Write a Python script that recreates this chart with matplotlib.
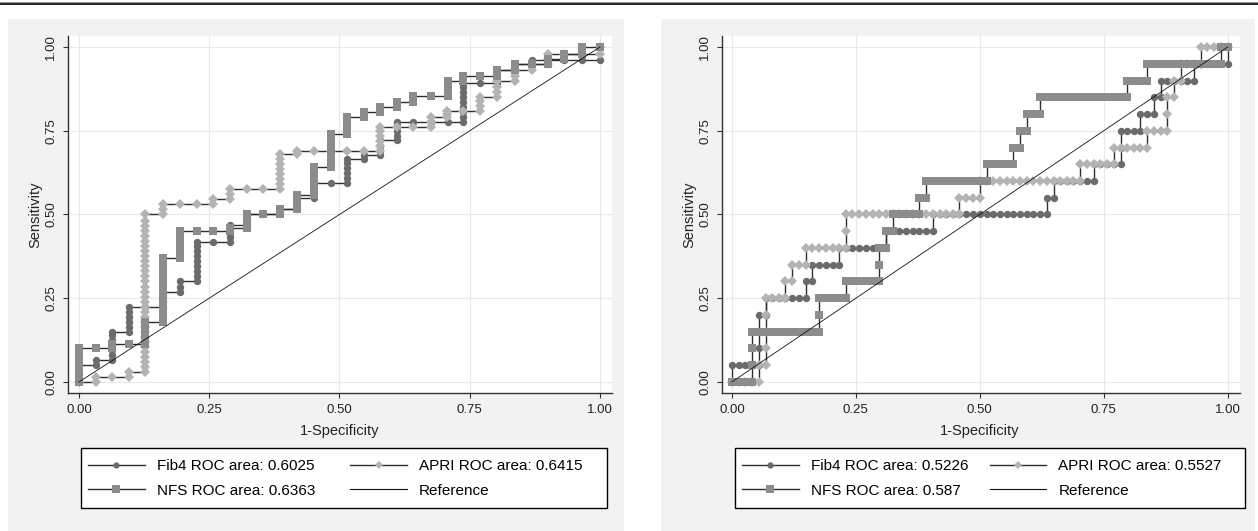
import matplotlib
matplotlib.use("Agg")
import matplotlib.pyplot as plt
from matplotlib.lines import Line2D
from matplotlib.patches import Rectangle

plt.rcParams['font.family'] = ['Liberation Sans', 'DejaVu Sans']

# ---------------- data: (1-specificity, sensitivity) points ----------------
fib4_left = [
    (0, 0), (0, 0.025), (0, 0.05),
    (0.033, 0.05), (0.033, 0.065),
    (0.063, 0.065), (0.063, 0.08), (0.063, 0.095), (0.063, 0.11), (0.063, 0.125), (0.063, 0.14), (0.063, 0.15),
    (0.096, 0.15), (0.096, 0.165), (0.096, 0.18), (0.096, 0.195), (0.096, 0.21), (0.096, 0.225),
    (0.127, 0.225),
    (0.162, 0.225), (0.162, 0.24), (0.162, 0.255), (0.162, 0.27),
    (0.193, 0.27), (0.193, 0.285), (0.193, 0.30),
    (0.226, 0.30), (0.226, 0.315), (0.226, 0.33), (0.226, 0.345), (0.226, 0.36), (0.226, 0.375),
    (0.226, 0.39), (0.226, 0.405), (0.226, 0.418),
    (0.258, 0.418),
    (0.290, 0.418), (0.290, 0.432), (0.290, 0.446), (0.290, 0.46), (0.290, 0.47),
    (0.322, 0.47), (0.322, 0.485), (0.322, 0.50),
    (0.354, 0.50),
    (0.386, 0.50), (0.386, 0.515),
    (0.418, 0.515), (0.418, 0.53), (0.418, 0.548),
    (0.451, 0.548), (0.451, 0.57), (0.451, 0.595),
    (0.483, 0.595),
    (0.515, 0.595), (0.515, 0.61), (0.515, 0.625), (0.515, 0.64), (0.515, 0.655), (0.515, 0.667),
    (0.547, 0.667), (0.547, 0.677),
    (0.578, 0.677), (0.578, 0.69), (0.578, 0.705), (0.578, 0.722),
    (0.610, 0.722), (0.610, 0.735), (0.610, 0.75), (0.610, 0.765), (0.610, 0.775),
    (0.642, 0.775), (0.676, 0.775), (0.708, 0.775),
    (0.738, 0.775), (0.738, 0.79), (0.738, 0.805), (0.738, 0.82), (0.738, 0.835), (0.738, 0.85),
    (0.738, 0.865), (0.738, 0.88), (0.738, 0.893),
    (0.770, 0.893),
    (0.803, 0.893), (0.803, 0.91), (0.803, 0.93),
    (0.837, 0.93), (0.837, 0.948),
    (0.869, 0.948), (0.869, 0.962),
    (0.901, 0.962), (0.931, 0.962), (0.965, 0.962), (1.0, 0.962), (1.0, 1.0),
]

apri_left = [
    (0, 0),
    (0.033, 0), (0.033, 0.015),
    (0.063, 0.015),
    (0.096, 0.015), (0.096, 0.03),
    (0.127, 0.03), (0.127, 0.045), (0.127, 0.06), (0.127, 0.075), (0.127, 0.09), (0.127, 0.105),
    (0.127, 0.12), (0.127, 0.135), (0.127, 0.15), (0.127, 0.165), (0.127, 0.18), (0.127, 0.195),
    (0.127, 0.21), (0.127, 0.225), (0.127, 0.24), (0.127, 0.255), (0.127, 0.27), (0.127, 0.285),
    (0.127, 0.30), (0.127, 0.315), (0.127, 0.33), (0.127, 0.345), (0.127, 0.36), (0.127, 0.375),
    (0.127, 0.39), (0.127, 0.405), (0.127, 0.42), (0.127, 0.435), (0.127, 0.45), (0.127, 0.465),
    (0.127, 0.48), (0.127, 0.50),
    (0.162, 0.50), (0.162, 0.515), (0.162, 0.53),
    (0.193, 0.53), (0.226, 0.53),
    (0.258, 0.53), (0.258, 0.545),
    (0.290, 0.545), (0.290, 0.56), (0.290, 0.575),
    (0.322, 0.575), (0.354, 0.575),
    (0.386, 0.575), (0.386, 0.59), (0.386, 0.605), (0.386, 0.62), (0.386, 0.635), (0.386, 0.65),
    (0.386, 0.665), (0.386, 0.68),
    (0.418, 0.68), (0.418, 0.69),
    (0.451, 0.69), (0.483, 0.69), (0.515, 0.69), (0.547, 0.69),
    (0.578, 0.69), (0.578, 0.705), (0.578, 0.72), (0.578, 0.735), (0.578, 0.75), (0.578, 0.76),
    (0.610, 0.76), (0.642, 0.76),
    (0.676, 0.76), (0.676, 0.775), (0.676, 0.79),
    (0.706, 0.79), (0.706, 0.80), (0.706, 0.81),
    (0.738, 0.81),
    (0.770, 0.81), (0.770, 0.825), (0.770, 0.84), (0.770, 0.852),
    (0.803, 0.852), (0.803, 0.867), (0.803, 0.882), (0.803, 0.90),
    (0.837, 0.90), (0.837, 0.915), (0.837, 0.93),
    (0.869, 0.93), (0.869, 0.95),
    (0.901, 0.95), (0.901, 0.965), (0.901, 0.98),
    (0.931, 0.98), (0.965, 0.98), (1.0, 0.98), (1.0, 1.0),
]

nfs_left = [
    (0, 0), (0, 0.02), (0, 0.04), (0, 0.06), (0, 0.08), (0, 0.10),
    (0.033, 0.10),
    (0.063, 0.10), (0.063, 0.113),
    (0.096, 0.113),
    (0.127, 0.113), (0.127, 0.13), (0.127, 0.145), (0.127, 0.16), (0.127, 0.178),
    (0.162, 0.178), (0.162, 0.195), (0.162, 0.215), (0.162, 0.235), (0.162, 0.255), (0.162, 0.275),
    (0.162, 0.295), (0.162, 0.315), (0.162, 0.335), (0.162, 0.355), (0.162, 0.37),
    (0.193, 0.37), (0.193, 0.39), (0.193, 0.41), (0.193, 0.43), (0.193, 0.45),
    (0.226, 0.45), (0.258, 0.45),
    (0.290, 0.45), (0.290, 0.46),
    (0.322, 0.46), (0.322, 0.48), (0.322, 0.50),
    (0.354, 0.50),
    (0.386, 0.50), (0.386, 0.515),
    (0.418, 0.515), (0.418, 0.535), (0.418, 0.558),
    (0.451, 0.558), (0.451, 0.58), (0.451, 0.60), (0.451, 0.62), (0.451, 0.643),
    (0.483, 0.643), (0.483, 0.665), (0.483, 0.685), (0.483, 0.705), (0.483, 0.725), (0.483, 0.74),
    (0.515, 0.74), (0.515, 0.76), (0.515, 0.775), (0.515, 0.79),
    (0.547, 0.79), (0.547, 0.805),
    (0.578, 0.805), (0.578, 0.82),
    (0.610, 0.82), (0.610, 0.837),
    (0.642, 0.837), (0.642, 0.855),
    (0.676, 0.855),
    (0.708, 0.855), (0.708, 0.87), (0.708, 0.885), (0.708, 0.90),
    (0.738, 0.90), (0.738, 0.915),
    (0.770, 0.915),
    (0.803, 0.915), (0.803, 0.93),
    (0.837, 0.93), (0.837, 0.948),
    (0.869, 0.948),
    (0.901, 0.948), (0.901, 0.965),
    (0.931, 0.965), (0.931, 0.98),
    (0.965, 0.98), (0.965, 1.0),
    (1.0, 1.0),
]

fib4_right = [
    (0, 0), (0, 0.05), (0.014, 0.05), (0.027, 0.05), (0.041, 0.05), (0.054, 0.05),
    (0.054, 0.10), (0.054, 0.15), (0.054, 0.20), (0.068, 0.20),
    (0.068, 0.25), (0.081, 0.25), (0.095, 0.25), (0.108, 0.25), (0.122, 0.25), (0.135, 0.25), (0.149, 0.25),
    (0.149, 0.30), (0.162, 0.30),
    (0.162, 0.35), (0.176, 0.35), (0.189, 0.35), (0.203, 0.35), (0.216, 0.35),
    (0.216, 0.40), (0.230, 0.40), (0.243, 0.40), (0.257, 0.40), (0.270, 0.40), (0.284, 0.40),
    (0.297, 0.40), (0.311, 0.40),
    (0.311, 0.45), (0.324, 0.45), (0.338, 0.45), (0.351, 0.45), (0.365, 0.45), (0.378, 0.45),
    (0.392, 0.45), (0.405, 0.45),
    (0.405, 0.50), (0.419, 0.50), (0.432, 0.50), (0.446, 0.50), (0.459, 0.50), (0.473, 0.50),
    (0.486, 0.50), (0.500, 0.50), (0.514, 0.50), (0.527, 0.50), (0.541, 0.50), (0.554, 0.50),
    (0.568, 0.50), (0.581, 0.50), (0.595, 0.50), (0.608, 0.50), (0.622, 0.50), (0.635, 0.50),
    (0.635, 0.55), (0.649, 0.55),
    (0.649, 0.60), (0.662, 0.60), (0.676, 0.60), (0.689, 0.60), (0.703, 0.60), (0.716, 0.60), (0.730, 0.60),
    (0.730, 0.65), (0.743, 0.65), (0.757, 0.65), (0.770, 0.65), (0.784, 0.65),
    (0.784, 0.70),
    (0.784, 0.75), (0.797, 0.75), (0.811, 0.75), (0.824, 0.75),
    (0.824, 0.80), (0.838, 0.80), (0.851, 0.80),
    (0.851, 0.85), (0.865, 0.85),
    (0.865, 0.90), (0.878, 0.90), (0.892, 0.90), (0.905, 0.90), (0.919, 0.90), (0.932, 0.90),
    (0.932, 0.95), (0.946, 0.95), (0.959, 0.95), (0.973, 0.95), (0.986, 0.95), (1.0, 0.95),
    (1.0, 1.0),
]

apri_right = [
    (0, 0), (0.014, 0), (0.027, 0), (0.041, 0), (0.054, 0),
    (0.054, 0.05), (0.068, 0.05),
    (0.068, 0.10), (0.068, 0.15), (0.068, 0.20),
    (0.068, 0.25), (0.081, 0.25), (0.095, 0.25), (0.108, 0.25),
    (0.108, 0.30), (0.122, 0.30),
    (0.122, 0.35), (0.135, 0.35), (0.149, 0.35),
    (0.149, 0.40), (0.162, 0.40), (0.176, 0.40), (0.189, 0.40), (0.203, 0.40), (0.216, 0.40), (0.230, 0.40),
    (0.230, 0.45),
    (0.230, 0.50), (0.243, 0.50), (0.257, 0.50), (0.270, 0.50), (0.284, 0.50), (0.297, 0.50),
    (0.311, 0.50), (0.324, 0.50), (0.338, 0.50), (0.351, 0.50), (0.365, 0.50), (0.378, 0.50),
    (0.392, 0.50), (0.405, 0.50), (0.419, 0.50), (0.432, 0.50), (0.446, 0.50), (0.459, 0.50),
    (0.459, 0.55), (0.473, 0.55), (0.486, 0.55), (0.500, 0.55),
    (0.500, 0.60), (0.514, 0.60), (0.527, 0.60), (0.541, 0.60), (0.554, 0.60), (0.568, 0.60),
    (0.581, 0.60), (0.595, 0.60), (0.608, 0.60), (0.622, 0.60), (0.635, 0.60), (0.649, 0.60),
    (0.662, 0.60), (0.676, 0.60), (0.689, 0.60), (0.703, 0.60),
    (0.703, 0.65), (0.716, 0.65), (0.730, 0.65), (0.743, 0.65), (0.757, 0.65), (0.770, 0.65),
    (0.770, 0.70), (0.784, 0.70), (0.797, 0.70), (0.811, 0.70), (0.824, 0.70), (0.838, 0.70),
    (0.838, 0.75), (0.851, 0.75), (0.865, 0.75), (0.878, 0.75),
    (0.878, 0.80),
    (0.878, 0.85), (0.892, 0.85),
    (0.892, 0.90), (0.905, 0.90),
    (0.905, 0.95), (0.919, 0.95), (0.932, 0.95), (0.946, 0.95),
    (0.946, 1.0), (0.959, 1.0), (0.973, 1.0), (0.986, 1.0), (1.0, 1.0),
]

nfs_right = [
    (0, 0), (0.014, 0), (0.027, 0), (0.041, 0),
    (0.041, 0.05), (0.041, 0.10),
    (0.041, 0.15), (0.054, 0.15), (0.068, 0.15), (0.081, 0.15), (0.095, 0.15), (0.108, 0.15),
    (0.122, 0.15), (0.135, 0.15), (0.149, 0.15), (0.162, 0.15), (0.176, 0.15),
    (0.176, 0.20),
    (0.176, 0.25), (0.189, 0.25), (0.203, 0.25), (0.216, 0.25), (0.230, 0.25),
    (0.230, 0.30), (0.243, 0.30), (0.257, 0.30), (0.270, 0.30), (0.284, 0.30), (0.297, 0.30),
    (0.297, 0.35),
    (0.297, 0.40), (0.311, 0.40),
    (0.311, 0.45), (0.324, 0.45),
    (0.324, 0.50), (0.338, 0.50), (0.351, 0.50), (0.365, 0.50), (0.378, 0.50),
    (0.378, 0.55), (0.392, 0.55),
    (0.392, 0.60), (0.405, 0.60), (0.419, 0.60), (0.432, 0.60), (0.446, 0.60), (0.459, 0.60),
    (0.473, 0.60), (0.486, 0.60), (0.500, 0.60), (0.514, 0.60),
    (0.514, 0.65), (0.527, 0.65), (0.541, 0.65), (0.554, 0.65), (0.568, 0.65),
    (0.568, 0.70), (0.581, 0.70),
    (0.581, 0.75), (0.595, 0.75),
    (0.595, 0.80), (0.608, 0.80), (0.622, 0.80),
    (0.622, 0.85), (0.635, 0.85), (0.649, 0.85), (0.662, 0.85), (0.676, 0.85), (0.689, 0.85),
    (0.703, 0.85), (0.716, 0.85), (0.730, 0.85), (0.743, 0.85), (0.757, 0.85), (0.770, 0.85),
    (0.784, 0.85), (0.797, 0.85),
    (0.797, 0.90), (0.811, 0.90), (0.824, 0.90), (0.838, 0.90),
    (0.838, 0.95), (0.851, 0.95), (0.865, 0.95), (0.878, 0.95), (0.892, 0.95), (0.905, 0.95),
    (0.919, 0.95), (0.932, 0.95), (0.946, 0.95), (0.959, 0.95), (0.973, 0.95), (0.986, 0.95),
    (0.986, 1.0), (1.0, 1.0),
]

left_labels = ["Fib4 ROC area: 0.6025", "APRI ROC area: 0.6415", "NFS ROC area: 0.6363", "Reference"]
right_labels = ["Fib4 ROC area: 0.5226", "APRI ROC area: 0.5527", "NFS ROC area: 0.587", "Reference"]

tick_values = [0, 0.25, 0.5, 0.75, 1.0]
tick_labels = ["0.00", "0.25", "0.50", "0.75", "1.00"]
xlabel_text = "1-Specificity"
ylabel_text = "Sensitivity"

# ---------------- styles ----------------
W, H = 1258, 531
LINE_C = '#2e2e2e'
styles = [
    dict(marker='o', ms=5.3, color='#6b6b6b'),   # Fib4
    dict(marker='D', ms=5.3, color='#b3b3b3'),   # APRI
    dict(marker='s', ms=6.2, color='#8c8c8c'),   # NFS
]
FS_TICK = 9.5
FS_TITLE = 10.5
FS_LEG = 11

fig = plt.figure(figsize=(W / 100, H / 100), dpi=100)
fig.patch.set_facecolor('white')


def fx(px):
    return px / W


def fy(py):
    return 1 - py / H


# grey panels
for x0, x1 in [(8, 624), (661, 1255)]:
    fig.add_artist(Rectangle((fx(x0), 0), (x1 - x0) / W, fy(19), transform=fig.transFigure,
                             facecolor='#f2f2f2', edgecolor='none', zorder=-5))
# top rule
fig.add_artist(Line2D([0, 1], [fy(2.2), fy(2.2)], color='#9a9a9a', lw=0.8, transform=fig.transFigure))
fig.add_artist(Line2D([0, 1], [fy(4.2), fy(4.2)], color='black', lw=1.2, transform=fig.transFigure))

panels = [
    dict(box=(68, 36, 612, 393), xlim=(-0.021, 1.023), curves=[fib4_left, apri_left, nfs_left],
         labels=left_labels, legbox=(81, 448, 607, 508), legpos=(88, 459), colsp=2.3, ylab_x=35),
    dict(box=(722, 36, 1240, 393), xlim=(-0.02, 1.025), curves=[fib4_right, apri_right, nfs_right],
         labels=right_labels, legbox=(735, 448, 1245, 508), legpos=(742, 459), colsp=1.4, ylab_x=689),
]

for p in panels:
    l, t, r, b = p['box']
    ax = fig.add_axes([fx(l), fy(b), (r - l) / W, (b - t) / H])
    ax.set_facecolor('white')
    for pts, st in zip(p['curves'], styles):
        xs = [q[0] for q in pts]
        ys = [q[1] for q in pts]
        ax.plot(xs, ys, color=LINE_C, lw=1.0, marker=st['marker'], ms=st['ms'],
                mfc=st['color'], mec=st['color'], mew=0, zorder=3)
    ax.plot([0, 1], [0, 1], color='#111111', lw=0.6, zorder=6)
    ax.set_xlim(*p['xlim'])
    ax.set_ylim(-0.033, 1.033)
    ax.set_xticks(tick_values)
    ax.set_xticklabels(tick_labels, fontsize=FS_TICK)
    ax.set_yticks(tick_values)
    ax.set_yticklabels(tick_labels, fontsize=FS_TICK, rotation=90, va='center')
    ax.grid(True, color='#e8e8e8', lw=0.8)
    ax.set_axisbelow(True)
    for s in ['top', 'right']:
        ax.spines[s].set_visible(False)
    for s in ['left', 'bottom']:
        ax.spines[s].set_color('#333333')
        ax.spines[s].set_linewidth(1.0)
    ax.tick_params(direction='out', length=3.6, width=0.8, color='#333333', pad=4, labelcolor='#222222')

    x0px = l + (0 - p['xlim'][0]) / (p['xlim'][1] - p['xlim'][0]) * (r - l)
    x1px = l + (1 - p['xlim'][0]) / (p['xlim'][1] - p['xlim'][0]) * (r - l)
    fig.text(fx((x0px + x1px) / 2), fy(431), xlabel_text, ha='center', va='center',
             fontsize=FS_TITLE, color='#222222')
    fig.text(fx(p['ylab_x']), fy(214.5), ylabel_text, rotation=90, ha='center', va='center',
             fontsize=FS_TITLE, color='#222222')

    # legend frame
    bl, bt, br, bb = p['legbox']
    fig.add_artist(Rectangle((fx(bl), fy(bb)), (br - bl) / W, (bb - bt) / H, transform=fig.transFigure,
                             facecolor='white', edgecolor='black', lw=1.0, zorder=1))

    handles = []
    for st in styles:
        handles.append(Line2D([], [], color=LINE_C, lw=1.0, marker=st['marker'], ms=st['ms'] * 0.85,
                              mfc=st['color'], mec=st['color'], mew=0))
    handles.append(Line2D([], [], color='#111111', lw=0.8))
    labs = p['labels']
    order = [0, 2, 1, 3]
    leg = fig.legend([handles[i] for i in order], [labs[i] for i in order],
                     loc='upper left', bbox_to_anchor=(fx(p['legpos'][0]), fy(p['legpos'][1])),
                     bbox_transform=fig.transFigure, ncol=2, fontsize=FS_LEG, frameon=False,
                     borderaxespad=0, borderpad=0, handlelength=3.7, handletextpad=0.8,
                     columnspacing=p['colsp'], labelspacing=0.7, numpoints=1)
    leg.set_zorder(2)

fig.savefig('out.png', dpi=100)
